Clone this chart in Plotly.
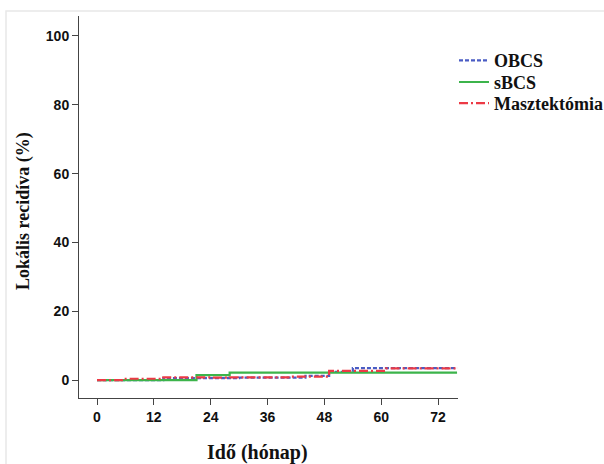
import plotly.graph_objects as go

# Step data (months, cumulative local recurrence %)
obcs_x = [0, 14, 30, 44, 49, 54, 76]
obcs_y = [0, 0.6, 0.7, 1.25, 2.4, 3.5, 3.5]

sbcs_x = [0, 21, 28, 76]
sbcs_y = [0, 1.45, 2.15, 2.15]

maszt_x = [0, 5.5, 14, 24, 28, 41, 49, 61, 76]
maszt_y = [0, 0.4, 0.8, 0.7, 0.8, 1.0, 2.7, 3.4, 3.4]

series = [
    ("OBCS", obcs_x, obcs_y, "#4a5cc4", "4px,2px", "legend"),
    ("sBCS", sbcs_x, sbcs_y, "#3cb44b", "solid", "legend2"),
    ("Masztektómia", maszt_x, maszt_y, "#ec3a45", "9px,3px,2px,3px", "legend3"),
]

x_ticks = [0, 12, 24, 36, 48, 60, 72]
y_ticks = [0, 20, 40, 60, 80, 100]

fig = go.Figure()
for name, xs, ys, col, dash, lg in series:
    fig.add_trace(go.Scatter(x=xs, y=ys, mode="lines", name=name, legend=lg,
                             line=dict(color=col, width=2.2, dash=dash, shape="hv")))

tickfont = dict(family="Liberation Sans", size=14, color="#111", weight="bold")
legfont = dict(family="Liberation Serif", size=18, color="#111", weight="bold")


def leg(ypix):
    return dict(x=(454 - 79) / 379, y=1 - ypix / 464, xref="paper", yref="container",
                xanchor="left", yanchor="middle", font=legfont,
                bgcolor="rgba(0,0,0,0)", itemwidth=30)


fig.update_layout(
    width=604, height=464,
    margin=dict(l=79, r=146, t=16, b=66, autoexpand=False),
    paper_bgcolor="white", plot_bgcolor="white",
    showlegend=True,
    legend=leg(60.7), legend2=leg(82.3), legend3=leg(103.5),
    xaxis=dict(range=[-3.8, 76.2], tickvals=x_ticks, ticks="outside", ticklen=6,
               tickcolor="#444", showline=True, linecolor="#444", linewidth=1,
               showgrid=False, zeroline=False, tickfont=tickfont),
    yaxis=dict(range=[-5.2, 105.8], tickvals=y_ticks, ticks="outside", ticklen=6,
               tickcolor="#444", showline=True, linecolor="#444", linewidth=1,
               showgrid=False, zeroline=False, tickfont=tickfont),
)

fig.add_annotation(text="Idő (hónap)", x=(257 - 79) / 379, y=(398 - 452) / 382,
                   xref="paper", yref="paper", showarrow=False,
                   font=dict(family="Liberation Serif", size=20, color="#111", weight="bold"),
                   xanchor="center", yanchor="middle")
fig.add_annotation(text="Lokális recidíva (%)", x=(23 - 79) / 379, y=(398 - 211) / 382,
                   xref="paper", yref="paper", showarrow=False,
                   font=dict(family="Liberation Serif", size=18, color="#111", weight="bold"),
                   textangle=-90, xanchor="center", yanchor="middle")

# light outer frame
fig.add_shape(type="rect", xref="paper", yref="paper",
              x0=(6 - 79) / 379, x1=(620 - 79) / 379,
              y0=(398 - 480) / 382, y1=(398 - 11) / 382,
              line=dict(color="#e8e8e8", width=1.5), layer="below")

fig.write_html("out.html")
